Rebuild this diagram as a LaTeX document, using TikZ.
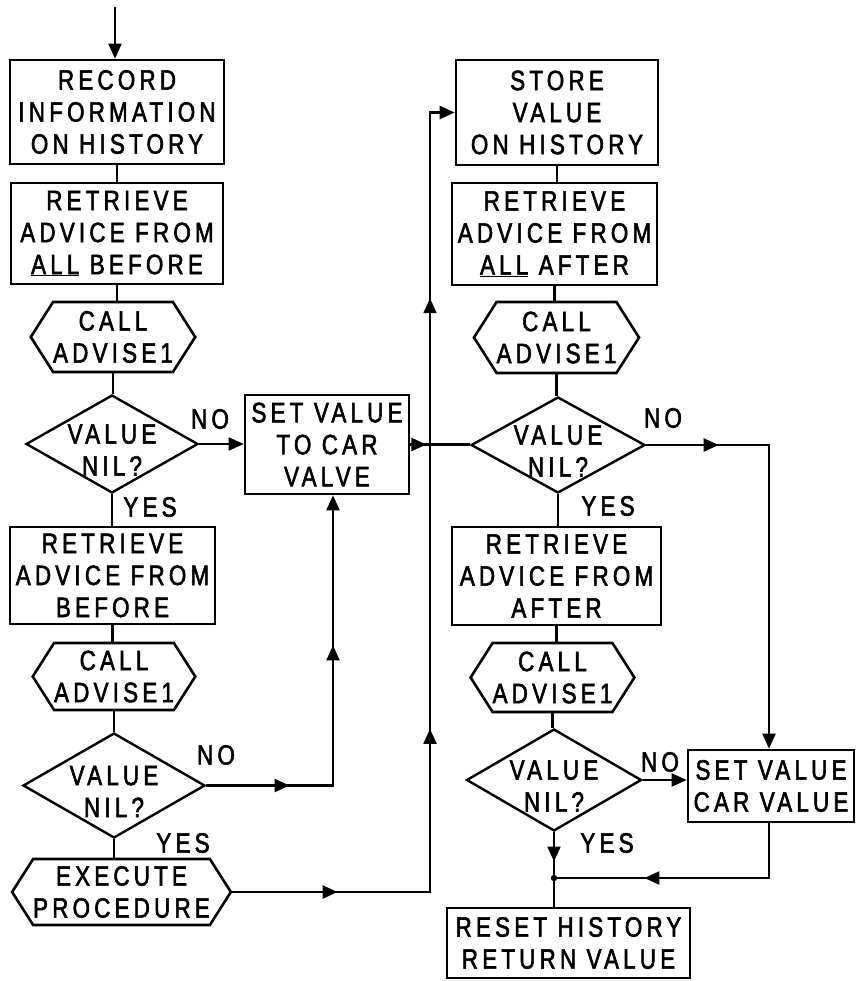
\documentclass[tikz,border=0pt]{standalone}
\usepackage{fontspec}
\setmainfont{Liberation Sans}[FakeStretch=0.8,LetterSpace=15,FakeBold=2]
\usetikzlibrary{shapes.geometric,shapes.symbols,arrows.meta,decorations.markings,calc}
\begin{document}
\begin{tikzpicture}[x=1pt,y=-1pt,
  font=\fontsize{28}{32}\selectfont,
  box/.style={draw, line width=2.6pt, rectangle, align=center, inner sep=0pt},
  hexa/.style={draw, line width=2.6pt, signal, signal to=east and west, signal from=nowhere, signal pointer angle=115, align=center, inner sep=0pt},
  dia/.style={draw, line width=2.4pt, diamond, inner sep=0pt},
  conn/.style={line width=2.2pt},
  tip/.style={-{Triangle[length=15pt,width=13pt]}},
  midarrow/.style={postaction={decorate, decoration={markings, mark=at position #1 with {\arrow{Triangle[length=15pt,width=13pt]}}}}},
  lbl/.style={inner sep=0pt},
  dtext/.style={align=center, inner sep=0pt, yshift=-6pt}
]
\useasboundingbox (0,0) rectangle (856,981);

% left column
\node[box, minimum width=214pt, minimum height=104pt] (b1) at (117,112) {RECORD\\INFORMATION\\ON HISTORY};
\node[box, minimum width=212pt, minimum height=101pt] (b2) at (117,233.5) {RETRIEVE\\ADVICE FROM\\\underline{ALL} BEFORE};
\node[hexa, minimum width=155pt, minimum height=70pt] (h1) at (113,337) {CALL\\ADVISE1};
\node[dia, minimum width=172pt, minimum height=98pt, label={[dtext,name=d1t]center:VALUE\\NIL?}] (d1) at (112,444) {};
\node[box, minimum width=164pt, minimum height=99pt] (b3) at (327,444.5) {SET VALUE\\TO CAR\\VALVE};
\node[box, minimum width=205pt, minimum height=97pt] (b4) at (112.5,575.5) {RETRIEVE\\ADVICE FROM\\BEFORE};
\node[hexa, minimum width=162pt, minimum height=67pt] (h2) at (114,676.5) {CALL\\ADVISE1};
\node[dia, minimum width=182pt, minimum height=105pt, label={[dtext,name=d2t]center:VALUE\\NIL?}] (d2) at (114,785.5) {};
\node[hexa, minimum width=213pt, minimum height=66pt] (h3) at (121.5,892) {EXECUTE\\PROCEDURE};

% right column
\node[box, minimum width=202pt, minimum height=105pt] (b5) at (557,112.5) {STORE\\VALUE\\ON HISTORY};
\node[box, minimum width=205pt, minimum height=102pt] (b6) at (554.5,234) {RETRIEVE\\ADVICE FROM\\\underline{ALL} AFTER};
\node[hexa, minimum width=151pt, minimum height=71pt] (h4) at (556.5,337.5) {CALL\\ADVISE1};
\node[dia, minimum width=174pt, minimum height=96pt, label={[dtext,name=d3t]center:VALUE\\NIL?}] (d3) at (558,445) {};
\node[box, minimum width=209pt, minimum height=98pt] (b7) at (556.5,576) {RETRIEVE\\ADVICE FROM\\AFTER};
\node[hexa, minimum width=159pt, minimum height=69pt] (h5) at (552.5,677.5) {CALL\\ADVISE1};
\node[dia, minimum width=175pt, minimum height=102pt, label={[dtext,name=d4t]center:VALUE\\NIL?}] (d4) at (554,780) {};
\node[box, minimum width=166pt, minimum height=72pt] (b8) at (771,786) {SET VALUE\\CAR VALUE};
\node[box, minimum width=243pt, minimum height=70pt] (b9) at (568.5,943) {RESET HISTORY\\RETURN VALUE};

% labels
\node[lbl] (no1) at (210,419) {NO};
\node[lbl] (yes1) at (150,507) {YES};
\node[lbl] (no2) at (216,755) {NO};
\node[lbl] (yes2) at (183,843) {YES};
\node[lbl] (no3) at (663,418) {NO};
\node[lbl] (yes3) at (608,506) {YES};
\node[lbl] (no4) at (660,762) {NO};
\node[lbl] (yes4) at (607,843) {YES};

% coordinates
\coordinate (start) at (115,7);
\coordinate (c2) at (333,0);
\coordinate (vx) at (430,0);
\coordinate (vx2) at (769,0);
\coordinate (jn) at (554,878);

% left column connectors
\draw[conn,tip] (start) -- (start |- b1.north);
\draw[conn] (b1.south) -- (b1.south |- b2.north);
\draw[conn] (b2.south) -- (b2.south |- h1.north);
\draw[conn] (h1.south) -- (h1.south |- d1.north);
\draw[conn,tip] (d1.east) -- (d1.east -| b3.west);
\draw[conn] (d1.south) -- (d1.south |- b4.north);
\draw[conn] (b4.south) -- (b4.south |- h2.north);
\draw[conn] (h2.south) -- (h2.south |- d2.north);
\draw[conn] (d2.south) -- (d2.south |- h3.north);
\draw[conn,tip,midarrow=0.2,midarrow=0.64] (d2.east) -- (d2.east -| c2) -- (c2 |- b3.south);
\draw[conn,tip,midarrow=0.105,midarrow=0.36,midarrow=0.79] (h3.east) -- (h3.east -| vx) -- (vx |- b5.west) -- (b5.west);
\draw[conn,midarrow=0.27] (b3.east) -- (b3.east -| d3.west);

% right column connectors
\draw[conn] (b5.south) -- (b5.south |- b6.north);
\draw[conn] (b6.south) -- (b6.south |- h4.north);
\draw[conn] (h4.south) -- (h4.south |- d3.north);
\draw[conn] (d3.south) -- (d3.south |- b7.north);
\draw[conn] (b7.south) -- (b7.south |- h5.north);
\draw[conn] (h5.south) -- (h5.south |- d4.north);
\draw[conn,tip,midarrow=0.17] (d3.east) -- (d3.east -| vx2) -- (vx2 |- b8.north);
\draw[conn,tip] (d4.east) -- (d4.east -| b8.west);
\draw[conn,midarrow=0.64] (d4.south) -- (jn);
\draw[conn,midarrow=0.665] (b8.south -| vx2) -- (vx2 |- jn) -- (jn);
\fill (jn) circle (3.2);
\draw[conn] (jn) -- (jn |- b9.north);
\end{tikzpicture}
\end{document}
